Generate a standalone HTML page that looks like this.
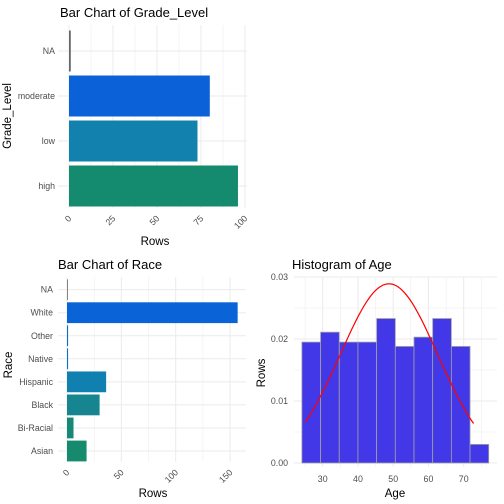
<!DOCTYPE html>
<html><head><meta charset="utf-8">
<style>
body{margin:0;background:#fff;}
svg{display:block;font-family:"Liberation Sans",sans-serif;}
.tk{fill:#4d4d4d;font-size:8.8px;}
.at{fill:#000;font-size:11.5px;}
.tt{fill:#000;font-size:13px;}
</style></head>
<body>
<svg id="chart" width="504" height="504" viewBox="0 0 504 504"></svg>
<script>
// Chart 1 data
const gradeCats = ["high","low","moderate","NA"];
const gradeVals = [96, 73, 80, 1];
const gradeColors = ["#148a6e","#1281ad","#0b62d8","#666666"];
const gradeTicks = [0,25,50,75,100];
// Chart 2 data
const raceCats = ["Asian","Bi-Racial","Black","Hispanic","Native","Other","White","NA"];
const raceVals = [18, 6, 30, 36, 1, 1, 157, 0.5];
const raceColors = ["#158a6d","#168878","#17858f","#1080b0","#0d6ecb","#0c69d0","#0b63d8","#666666"];
const raceTicks = [0,50,100,150];
// Chart 3 data
const histStart = 24.1;
const histWidth = 5.3;
const histDens = [0.0195,0.0211,0.0195,0.0195,0.0233,0.0188,0.0203,0.0233,0.0188,0.003];
const ageTicks = [30,40,50,60,70];
const densTicks = [0,0.01,0.02,0.03];
const densLabels = ["0.00","0.01","0.02","0.03"];
const curveMean = 48.8, curveSd = 13.8, curveMin = 25.1, curveMax = 72.8;

const svg = document.getElementById('chart');
const NS = "http://www.w3.org/2000/svg";
function mk(tag, attrs, text){
  const e = document.createElementNS(NS, tag);
  for (const k in attrs) e.setAttribute(k, attrs[k]);
  if (text !== undefined) e.textContent = text;
  svg.appendChild(e);
  return e;
}
const GRID = "#ebebeb";

// ---------- Chart 1 ----------
(function(){
  const x = v => 69 + v*1.76;
  const y = i => 186 - i*45;
  const L=58, R=247, T=25, B=208;
  for (let t=12.5; t<100; t+=25){ const g=mk('line',{x1:x(t),x2:x(t),y1:T,y2:B,stroke:GRID,'stroke-width':0.5});   }
  gradeTicks.forEach(t=>{ const g=mk('line',{x1:x(t),x2:x(t),y1:T,y2:B,stroke:GRID,'stroke-width':1});   });
  gradeCats.forEach((c,i)=>{ const g=mk('line',{x1:L,x2:R,y1:y(i),y2:y(i),stroke:GRID,'stroke-width':1});   });
  gradeCats.forEach((c,i)=>{
    const r=mk('rect',{x:x(0),y:y(i)-20.5,width:x(gradeVals[i])-x(0),height:41,fill:gradeColors[i]});
    
    
    const l=mk('text',{x:55,y:y(i)+3,'text-anchor':'end',class:'tk'},c);
    
    
  });
  gradeTicks.forEach(t=>{
    const l=mk('text',{x:0,y:0,'text-anchor':'end',class:'tk',transform:`translate(${x(t)+3},${219}) rotate(-45)`},String(t));
    
    
  });
  let e=mk('text',{x:155,y:245,'text-anchor':'middle',class:'at'},'Rows');  
  e=mk('text',{x:0,y:0,'text-anchor':'middle',class:'at',transform:'translate(11,116) rotate(-90)'},'Grade_Level');  
  e=mk('text',{x:60,y:17,class:'tt'},'Bar Chart of Grade_Level');  
})();

// ---------- Chart 2 ----------
(function(){
  const x = v => 67 + v*1.087;
  const y = i => 451 - i*23.05;
  const L=58, R=246, T=277, B=462;
  for (let t=25; t<175; t+=50){ const g=mk('line',{x1:x(t),x2:x(t),y1:T,y2:B,stroke:GRID,'stroke-width':0.5});   }
  raceTicks.forEach(t=>{ const g=mk('line',{x1:x(t),x2:x(t),y1:T,y2:B,stroke:GRID,'stroke-width':1});   });
  raceCats.forEach((c,i)=>{ const g=mk('line',{x1:L,x2:R,y1:y(i),y2:y(i),stroke:GRID,'stroke-width':1});   });
  raceCats.forEach((c,i)=>{
    const r=mk('rect',{x:x(0),y:y(i)-10.4,width:Math.max(0.8,x(raceVals[i])-x(0)),height:20.8,fill:raceColors[i]});
    
    
    const l=mk('text',{x:53,y:y(i)+3,'text-anchor':'end',class:'tk'},c);
    
    
  });
  raceTicks.forEach(t=>{
    const l=mk('text',{x:0,y:0,'text-anchor':'end',class:'tk',transform:`translate(${x(t)+3},${473}) rotate(-45)`},String(t));
    
    
  });
  let e=mk('text',{x:153,y:497,'text-anchor':'middle',class:'at'},'Rows');  
  e=mk('text',{x:0,y:0,'text-anchor':'middle',class:'at',transform:'translate(12,365) rotate(-90)'},'Race');  
  e=mk('text',{x:58,y:269,class:'tt'},'Bar Chart of Race');  
})();

// ---------- Chart 3 ----------
(function(){
  const x = v => 322.7 + (v-30)*3.525;
  const y = v => 463 - v*6200;
  const L=294, R=497, T=277, B=467;
  for (let t=25; t<=75; t+=10){ const g=mk('line',{x1:x(t),x2:x(t),y1:T,y2:B,stroke:GRID,'stroke-width':0.5});   }
  for (let t=0.005; t<0.03; t+=0.01){ const g=mk('line',{x1:L,x2:R,y1:y(t),y2:y(t),stroke:GRID,'stroke-width':0.5});   }
  ageTicks.forEach(t=>{ const g=mk('line',{x1:x(t),x2:x(t),y1:T,y2:B,stroke:GRID,'stroke-width':1});   });
  densTicks.forEach((t,i)=>{
    const g=mk('line',{x1:L,x2:R,y1:y(t),y2:y(t),stroke:GRID,'stroke-width':1});  
    const l=mk('text',{x:288,y:y(t)+3,'text-anchor':'end',class:'tk'},densLabels[i]);
    
    
  });
  histDens.forEach((d,i)=>{
    const x0=x(histStart+i*histWidth), x1=x(histStart+(i+1)*histWidth);
    const r=mk('rect',{x:x0,y:y(d),width:x1-x0,height:y(0)-y(d),fill:'#4238e8',stroke:'#a0a0a0','stroke-width':0.8});
    
    
  });
  ageTicks.forEach(t=>{
    const l=mk('text',{x:x(t),y:482,'text-anchor':'middle',class:'tk'},String(t));
    
    
  });
  let pts=[];
  for (let k=0;k<=80;k++){
    const a=curveMin+(curveMax-curveMin)*k/80;
    const d=Math.exp(-((a-curveMean)**2)/(2*curveSd*curveSd))/(curveSd*Math.sqrt(2*Math.PI));
    pts.push(x(a).toFixed(1)+','+y(d).toFixed(1));
  }
  const c=mk('polyline',{points:pts.join(' '),fill:'none',stroke:'#ff0000','stroke-width':1.2});
  
  
  let e=mk('text',{x:395,y:497,'text-anchor':'middle',class:'at'},'Age');  
  e=mk('text',{x:0,y:0,'text-anchor':'middle',class:'at',transform:'translate(265,373) rotate(-90)'},'Rows');  
  e=mk('text',{x:292,y:269,class:'tt'},'Histogram of Age');  
})();
</script>
</body></html>
